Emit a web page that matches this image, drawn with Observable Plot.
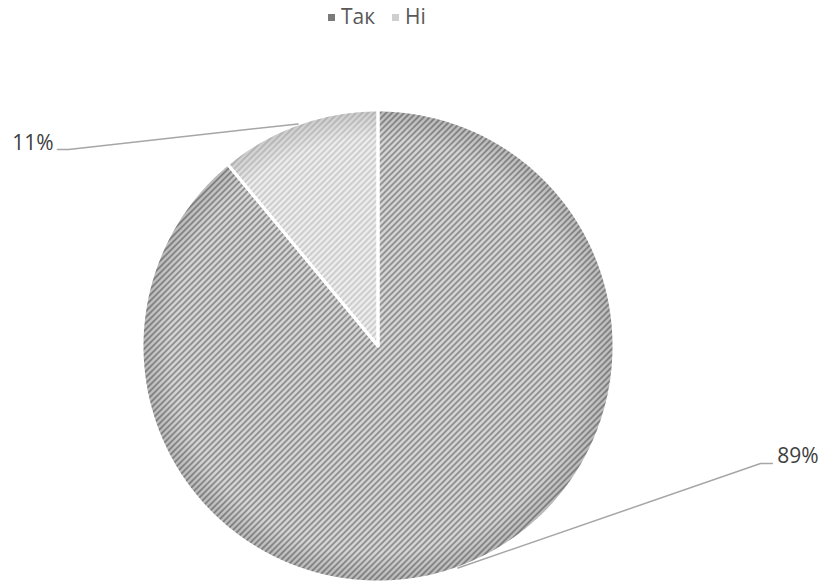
<!DOCTYPE html>
<html>
<head>
<meta charset="utf-8">
<script src="https://cdn.jsdelivr.net/npm/d3@7"></script>
<script src="https://cdn.jsdelivr.net/npm/@observablehq/plot@0.6"></script>
<style>
  body { margin: 0; background: #fff; font-family: "Open Sans", sans-serif; }
  #wrap { position: relative; width: 820px; height: 581px; overflow: hidden; }
  #legend { position: absolute; top: 6px; left: 328px; display: flex; align-items: center; font-size: 21px; line-height: 21px; color: #595959; }
  #legend .item { display: flex; align-items: center; margin-right: 17px; }
  #legend .sw { width: 7px; height: 7px; margin-right: 6px; margin-top: 1px; }
  #chart { position: absolute; top: 0; left: 0; }
</style>
</head>
<body>
<div id="wrap"><div id="chart"></div><div id="legend"></div></div>
<script>
// ---- data ----
const categories = ["Так", "Ні"];
const values = [89, 11];
const labelTexts = ["89%", "11%"];

// ---- layout / style (not data) ----
const W = 820, H = 581;
const cx = 377.5, cy = 345.5, R = 236;
const patternBg = ["#d9d9d9", "#eeeeee"];
const patternFg = ["#6e6e6e", "#bcbcbc"];
const legendSwatch = ["#7a7a7a", "#cfcfcf"];
// leader elbow, end, text anchor (in radius units relative to pie centre)
const labelElbow = [[1.621, -0.498], [-1.311, 0.833]];
const labelEnd = [[1.671, -0.498], [-1.358, 0.833]];
const labelPos = [[1.692, -0.468], [-1.375, 0.858]];
const labelAnchor = ["start", "end"];

const pie = d3.pie().sort(null).value(d => d.value);
const rows = categories.map((c, i) => ({cat: c, value: values[i], i}));
const arcs = pie(rows);

function arcPolygon(a) {
  const pts = [{x: 0, y: 0}];
  const n = Math.max(2, Math.ceil((a.endAngle - a.startAngle) / 0.005));
  for (let k = 0; k <= n; k++) {
    const t = a.startAngle + (a.endAngle - a.startAngle) * k / n;
    pts.push({x: Math.sin(t), y: Math.cos(t)});
  }
  pts.push({x: 0, y: 0});
  return pts;
}
const polys = arcs.map(arcPolygon);
const fullCircle = arcPolygon({startAngle: 0, endAngle: 2 * Math.PI});

const leaders = arcs.map((a, i) => {
  const m = (a.startAngle + a.endAngle) / 2;
  return [
    {x: Math.sin(m), y: Math.cos(m)},
    {x: labelElbow[i][0], y: labelElbow[i][1]},
    {x: labelEnd[i][0], y: labelEnd[i][1]}
  ];
});
const labels = arcs.map((a, i) => ({x: labelPos[i][0], y: labelPos[i][1], text: labelTexts[i], anchor: labelAnchor[i]}));

function defs() {
  const g = d3.create("svg:defs");
  categories.forEach((c, i) => {
    const p = g.append("pattern").attr("id", "pat" + i)
      .attr("patternUnits", "userSpaceOnUse").attr("width", 6).attr("height", 6);
    p.append("rect").attr("width", 6).attr("height", 6).attr("fill", patternBg[i]);
    p.append("path").attr("d", "M-1,1 L1,-1 M0,6 L6,0 M5,7 L7,5")
      .attr("stroke", patternFg[i]).attr("stroke-width", 1.35).attr("fill", "none");
  });
  const rg = g.append("radialGradient").attr("id", "rim").attr("cx", "50%").attr("cy", "50%").attr("r", "50%");
  rg.append("stop").attr("offset", "0.88").attr("stop-color", "#000").attr("stop-opacity", 0);
  rg.append("stop").attr("offset", "1").attr("stop-color", "#000").attr("stop-opacity", 0.14);
  return g.node();
}

const marks = [defs];
polys.forEach((p, i) => {
  marks.push(Plot.line(p, {x: "x", y: "y", fill: `url(#pat${i})`, stroke: "none"}));
});
marks.push(Plot.line(fullCircle, {x: "x", y: "y", fill: "url(#rim)", stroke: "none"}));
polys.forEach((p, i) => {
  marks.push(Plot.line(p, {x: "x", y: "y", fill: "none", stroke: "#fff", strokeWidth: 3, strokeLinejoin: "miter"}));
});
leaders.forEach(l => {
  marks.push(Plot.line(l, {x: "x", y: "y", stroke: "#a6a6a6", strokeWidth: 1.5, curve: "linear"}));
});
labels.forEach(l => {
  marks.push(Plot.text([l], {x: "x", y: "y", text: "text", textAnchor: l.anchor, lineAnchor: "middle", fill: "#404040", fontSize: 21, fontFamily: "Open Sans"}));
});

const chart = Plot.plot({
  width: W, height: H,
  margin: 0,
  x: {domain: [-1, 1], range: [cx - R, cx + R], axis: null},
  y: {domain: [-1, 1], range: [cy + R, cy - R], axis: null},
  style: {background: "transparent", overflow: "visible"},
  marks
});
document.getElementById("chart").appendChild(chart);

const legend = d3.select("#legend");
categories.forEach((c, i) => {
  const it = legend.append("div").attr("class", "item");
  it.append("div").attr("class", "sw").style("background", legendSwatch[i]);
  it.append("span").text(c);
});
</script>
</body>
</html>
